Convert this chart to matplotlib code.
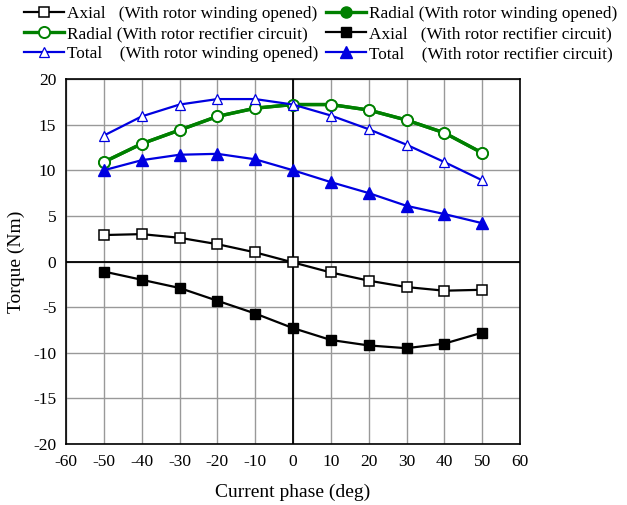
import matplotlib
matplotlib.use("Agg")
import matplotlib.pyplot as plt

plt.rcParams['font.family'] = ['Liberation Serif', 'DejaVu Serif']
plt.rcParams['axes.unicode_minus'] = False

phase = [-50, -40, -30, -20, -10, 0, 10, 20, 30, 40, 50]
axial_open = [2.9, 3.0, 2.6, 1.9, 1.0, -0.1, -1.2, -2.1, -2.8, -3.2, -3.1]
axial_rect = [-1.1, -2.0, -2.9, -4.3, -5.7, -7.3, -8.6, -9.2, -9.5, -9.0, -7.8]
radial_open = [10.9, 12.9, 14.4, 15.9, 16.8, 17.2, 17.2, 16.6, 15.5, 14.1, 11.9]
radial_rect = [10.9, 12.9, 14.4, 15.9, 16.8, 17.2, 17.2, 16.6, 15.5, 14.1, 11.9]
total_open = [13.8, 15.9, 17.2, 17.8, 17.8, 17.2, 16.0, 14.5, 12.8, 10.9, 8.9]
total_rect = [10.0, 11.1, 11.7, 11.8, 11.2, 10.0, 8.7, 7.5, 6.1, 5.2, 4.2]

fig = plt.figure(figsize=(6.27, 5.05), dpi=100)
ax = fig.add_axes([66/627, 1-444/505, (520-66)/627, (444-79)/505])

ax.set_xlim(-60, 60)
ax.set_ylim(-20, 20)
ax.set_xticks(range(-60, 61, 10))
ax.set_yticks(range(-20, 21, 5))
ax.grid(True, color='#999999', linewidth=1.0)
ax.axhline(0, color='black', linewidth=1.3, zorder=2)
ax.axvline(0, color='black', linewidth=1.3, zorder=2)
for s in ax.spines.values():
    s.set_color('black')
    s.set_linewidth(1.2)
ax.tick_params(length=0, labelsize=12.5, pad=7)

blue = '#0000e0'
l1, = ax.plot(phase, axial_open, color='black', lw=1.6, marker='s', ms=7, mfc='white', mec='black', mew=1.1, zorder=4)
l4, = ax.plot(phase, radial_open, color='green', lw=2.4, marker='o', ms=8, mfc='green', mec='green', zorder=3)
l2, = ax.plot(phase, radial_rect, color='green', lw=2.4, marker='o', ms=8, mfc='white', mec='green', mew=1.4, zorder=4)
l3, = ax.plot(phase, total_open, color=blue, lw=1.6, marker='^', ms=7, mfc='white', mec=blue, mew=0.9, zorder=4)
l5, = ax.plot(phase, axial_rect, color='black', lw=1.6, marker='s', ms=7, mfc='black', mec='black', zorder=4)
l6, = ax.plot(phase, total_rect, color=blue, lw=1.6, marker='^', ms=9, mfc=blue, mec=blue, zorder=4)

ax.set_xlabel('Current phase (deg)', fontsize=14, labelpad=10)
ax.set_ylabel('Torque (Nm)', fontsize=14, labelpad=6)

handles = [l1, l2, l3, l4, l5, l6]
labels = ['Axial   (With rotor winding opened)',
          'Radial (With rotor rectifier circuit)',
          'Total    (With rotor winding opened)',
          'Radial (With rotor winding opened)',
          'Axial   (With rotor rectifier circuit)',
          'Total    (With rotor rectifier circuit)']
fig.legend(handles, labels, ncol=2, loc='upper left', bbox_to_anchor=(14/627, 1.008),
           frameon=False, fontsize=12.4, handlelength=2.3, handletextpad=0.2,
           columnspacing=0.45, labelspacing=0.22, borderaxespad=0.2)

fig.savefig('out.png', dpi=100)
